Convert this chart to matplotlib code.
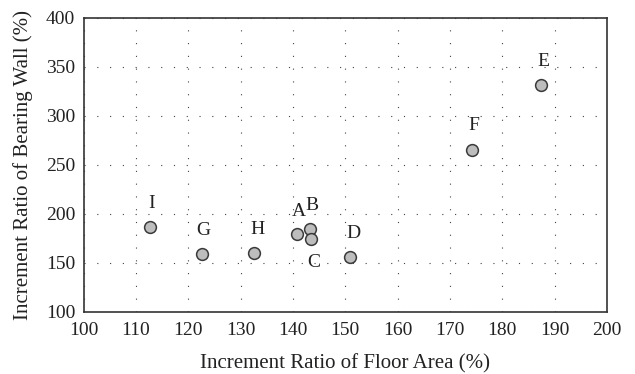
import matplotlib.pyplot as plt

# floor area increment vs bearing wall increment, one point per building
names = ['A', 'B', 'C', 'D', 'E', 'F', 'G', 'H', 'I']
floor_area = [140.8, 143.3, 143.4, 151.0, 187.4, 174.3, 122.6, 132.6, 112.7]
bearing_wall = [179.1, 184.5, 174.0, 156.2, 331.6, 265.2, 159.0, 160.3, 186.2]

# label offsets in pixels (dx, dy)
offsets = {'A': (2, 23), 'B': (2, 23), 'C': (3, -23), 'D': (3, 23),
           'E': (2, 23), 'F': (1, 24), 'G': (2, 23), 'H': (3, 23), 'I': (2, 24)}

plt.rcParams['font.family'] = 'Liberation Serif'

fig = plt.figure(figsize=(6.35, 3.74), dpi=100)
ax = fig.add_axes([83.5 / 635, 1 - 311.7 / 374, (607 - 83.5) / 635, (311.7 - 18) / 374])

ax.scatter(floor_area, bearing_wall, s=72, facecolor='#bdbdbd', edgecolor='#3a3a3a',
           linewidth=1.1, zorder=3)

for n, x, y in zip(names, floor_area, bearing_wall):
    dx, dy = offsets[n]
    ax.annotate(n, (x, y), xytext=(dx * 0.72, dy * 0.72), textcoords='offset points',
                ha='center', va='center', fontsize=14, color='#222222')

ax.set_xlim(100, 200)
ax.set_ylim(100, 400)
ax.set_xticks(range(100, 201, 10))
ax.set_yticks(range(100, 401, 50))
ax.tick_params(axis='x', length=0, pad=7.5, labelsize=14, colors='#222222')
ax.tick_params(axis='y', length=0, pad=6, labelsize=14, colors='#222222')

ax.grid(True, color='#444444', linestyle=(0, (1, 10.5)), linewidth=0.8)
ax.set_axisbelow(True)
for side in ax.spines:
    ax.spines[side].set_color('#333333')
    ax.spines[side].set_linewidth(1.2)

ax.set_xlabel('Increment Ratio of Floor Area (%)', fontsize=15, labelpad=10.5, color='#222222')
ax.set_ylabel('Increment Ratio of Bearing Wall (%)', fontsize=15, labelpad=9, color='#222222')

plt.savefig('out.png', dpi=100)
